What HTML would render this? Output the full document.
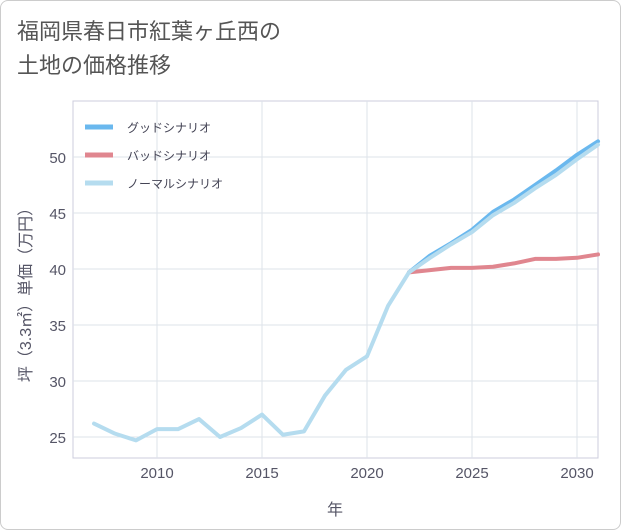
<!DOCTYPE html>
<html><head><meta charset="utf-8">
<style>
body{margin:0;background:#fff;}
#wrap{position:relative;width:619px;height:528px;border:1px solid #ccc;border-radius:8px;overflow:hidden;background:#fff;font-family:"Liberation Sans","Noto Sans CJK JP",sans-serif;}
#title{position:absolute;left:16px;top:14px;font-size:22px;line-height:34px;color:#555;}
svg{position:absolute;left:0;top:0;}
</style></head><body>
<div id="wrap">
<div id="title">福岡県春日市紅葉ヶ丘西の<br>土地の価格推移</div>
<svg id="chart" width="621" height="530"></svg>
</div>
<script>
const histYears=[2007,2008,2009,2010,2011,2012,2013,2014,2015,2016,2017,2018,2019,2020,2021,2022];
const histValues=[26.2,25.3,24.7,25.7,25.7,26.6,25.0,25.8,27.0,25.2,25.5,28.7,31.0,32.2,36.7,39.7];
const futYears=[2022,2023,2024,2025,2026,2027,2028,2029,2030,2031];
const goodValues=[39.7,41.2,42.3,43.5,45.1,46.2,47.5,48.8,50.2,51.4];
const badValues=[39.7,39.9,40.1,40.1,40.2,40.5,40.9,40.9,41.0,41.3];
const normalValues=[39.7,41.0,42.2,43.3,44.8,45.9,47.2,48.4,49.8,51.1];
const xTicks=[2010,2015,2020,2025,2030];
const yTicks=[25,30,35,40,45,50];
const legendLabels=["グッドシナリオ","バッドシナリオ","ノーマルシナリオ"];

const NS="http://www.w3.org/2000/svg";
const svg=document.getElementById('chart');
const L=72,R=597,T=100,B=457;
const x=v=>156+(v-2010)*21;
const y=v=>436-(v-25)*11.2;
function mk(t,a){const e=document.createElementNS(NS,t);for(const k in a)e.setAttribute(k,a[k]);svg.appendChild(e);return e;}
const bg=mk('rect',{x:L,y:T,width:R-L,height:B-T,fill:'#fff',stroke:'#ccd'});


xTicks.forEach(t=>{
 const g=mk('line',{x1:x(t),x2:x(t),y1:T,y2:B,stroke:'#dde3ea'});
 
 
 const tx=mk('text',{x:x(t),y:B+20,'text-anchor':'middle','font-size':15,fill:'#556'});
 tx.textContent=t;
 
 
});
yTicks.forEach(t=>{
 const g=mk('line',{x1:L,x2:R,y1:y(t),y2:y(t),stroke:'#dde3ea'});
 
 
 const tx=mk('text',{x:L-7,y:y(t)+6,'text-anchor':'end','font-size':15,fill:'#556'});
 tx.textContent=t;
 
 
});
function line(xs,vs,color,w,name){
 const p=mk('polyline',{points:xs.map((a,i)=>x(a)+','+y(vs[i])).join(' '),fill:'none',stroke:color,'stroke-width':w,'stroke-linejoin':'round','stroke-linecap':'round'});
 
 
}
line(futYears,goodValues,'#6ab8ee',4,'good-scenario-line');
line(futYears,badValues,'#e0868f',4,'bad-scenario-line');
line(futYears,normalValues,'#b5dcef',4,'normal-scenario-line');
line(histYears,histValues,'#b5dcef',4,'history-line');
const colors=['#6ab8ee','#e0868f','#b5dcef'];
legendLabels.forEach((s,i)=>{
 const ly=126+i*28;
 const l=mk('line',{x1:84,x2:112,y1:ly,y2:ly,stroke:colors[i],'stroke-width':5});
 
 
 const t=mk('text',{x:126,y:ly+5,'font-size':12,fill:'#445'});
 t.textContent=s;
 
 
});
const xt=mk('text',{x:334,y:514,'text-anchor':'middle','font-size':16,fill:'#556'});
xt.textContent='年';


const yt=mk('text',{x:0,y:0,'text-anchor':'middle','font-size':16,fill:'#556',transform:'translate(30,290) rotate(-90)'});
yt.textContent='坪（3.3㎡）単価（万円）';


</script>
</body></html>
